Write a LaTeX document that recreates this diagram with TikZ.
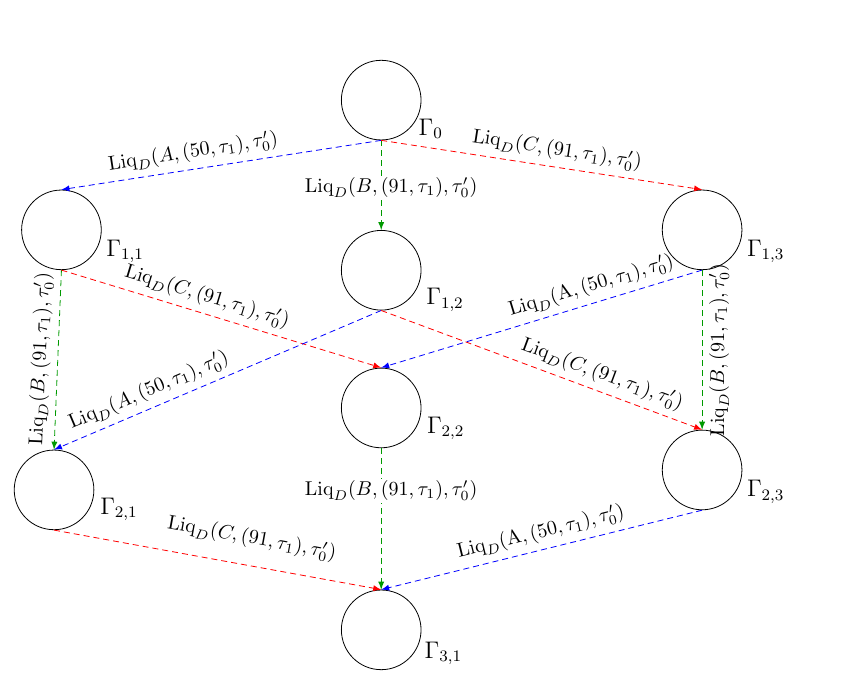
\documentclass[tikz,border=0pt]{standalone}
\usepackage{amsmath}
\begin{document}
\begin{tikzpicture}[
    state/.style={circle, draw, minimum size=1.4cm, inner sep=0pt},
    glbl/.style={font=\large, anchor=base west, label distance=3pt},
    arr/.style={densely dashed, -latex},
    lbl/.style={sloped, above, text=black},
    midlbl/.style={fill=white, inner sep=1pt, xshift=5pt, text=black}
]
    \useasboundingbox (-6.70,1.76) rectangle (8.45,-10.26);

    % States
    \node[state, label={[glbl, label distance=3pt]-49:$\Gamma_{0}$}] (g0) at (0,0) {};
    \node[state, label={[glbl]-35:$\Gamma_{1,1}$}] (g11) at (-5.62,-2.28) {};
    \node[state, label={[glbl, label distance=5.5pt]-42:$\Gamma_{1,2}$}] (g12) at (0,-2.99) {};
    \node[state, label={[glbl]-35:$\Gamma_{1,3}$}] (g13) at (5.64,-2.28) {};
    \node[state, label={[glbl]-32:$\Gamma_{2,1}$}] (g21) at (-5.75,-6.85) {};
    \node[state, label={[glbl]-33:$\Gamma_{2,2}$}] (g22) at (0,-5.41) {};
    \node[state, label={[glbl]-35:$\Gamma_{2,3}$}] (g23) at (5.64,-6.50) {};
    \node[state, label={[glbl]-38:$\Gamma_{3,1}$}] (g31) at (0,-9.31) {};

    % Level 0 -> 1
    \draw[arr, blue] (g0.south) -- node[lbl, pos=0.58] {$\mathrm{Liq}_D(A,(50,\tau_1),\tau'_0)$} (g11.north);
    \draw[arr, green!60!black] (g0.south) -- node[midlbl, pos=0.53] {$\mathrm{Liq}_D(B,(91,\tau_1),\tau'_0)$} (g12.north);
    \draw[arr, red] (g0.south) -- node[lbl, pos=0.54] {$\mathrm{Liq}_D(C,(91,\tau_1),\tau'_0)$} (g13.north);

    % Level 1 -> 2
    \draw[arr, green!60!black] (g11.south) -- node[lbl, pos=0.5] {$\mathrm{Liq}_D(B,(91,\tau_1),\tau'_0)$} (g21.north);
    \draw[arr, red] (g11.south) -- node[lbl, pos=0.44] {$\mathrm{Liq}_D(C,(91,\tau_1),\tau'_0)$} (g22.north);
    \draw[arr, blue] (g12.south) -- node[lbl, pos=0.69] {$\mathrm{Liq}_D(A,(50,\tau_1),\tau'_0)$} (g21.north);
    \draw[arr, red] (g12.south) -- node[lbl, pos=0.67] {$\mathrm{Liq}_D(C,(91,\tau_1),\tau'_0)$} (g23.north);
    \draw[arr, blue] (g13.south) -- node[lbl, pos=0.33] {$\mathrm{Liq}_D(\mathrm{A},(50,\tau_1),\tau'_0)$} (g22.north);
    \draw[arr, green!60!black] (g13.south) -- node[rotate=90, below, pos=0.5, text=black] {$\mathrm{Liq}_D(B,(91,\tau_1),\tau'_0)$} (g23.north);

    % Level 2 -> 3
    \draw[arr, red] (g21.south) -- node[lbl, above=5pt, pos=0.59] {$\mathrm{Liq}_D(C,(91,\tau_1),\tau'_0)$} (g31.north);
    \draw[arr, green!60!black] (g22.south) -- node[midlbl, pos=0.3] {$\mathrm{Liq}_D(B,(91,\tau_1),\tau'_0)$} (g31.north);
    \draw[arr, blue] (g23.south) -- node[lbl, pos=0.49] {$\mathrm{Liq}_D(\mathrm{A},(50,\tau_1),\tau'_0)$} (g31.north);
\end{tikzpicture}
\end{document}
